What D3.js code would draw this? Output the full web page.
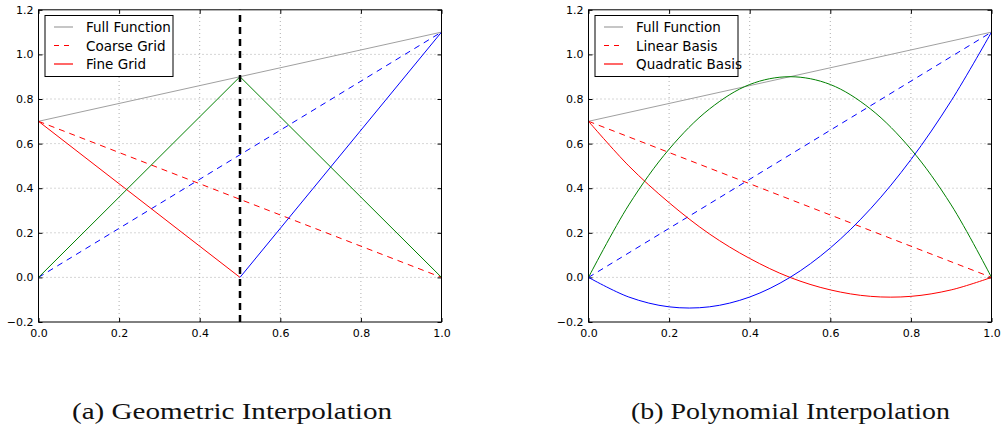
<!DOCTYPE html>
<html>
  <head>
    <meta charset="UTF-8" />
    <style>
      body { margin: 0; background: #fff; }
      svg { display: block; }
      .tick text { font-family: "DejaVu Sans", sans-serif; font-size: 11px; fill: #000; }
      .legend text { font-family: "DejaVu Sans", sans-serif; font-size: 13.5px; fill: #000; }
      .caption { font-family: "Liberation Serif", "DejaVu Serif", serif; font-size: 23px; fill: #111; }
    </style>
  </head>
  <body>
    <svg></svg>
    <script src="https://d3js.org/d3.v7.min.js"></script>
    <script>
      let width = 1002,
        height = 431;

      // ---- data ----
      var xTicks = [0.0, 0.2, 0.4, 0.6, 0.8, 1.0];
      var yTicks = [-0.2, 0.0, 0.2, 0.4, 0.6, 0.8, 1.0, 1.2];

      // left: geometric interpolation
      var fullX = [0, 1];
      var fullY = [0.7, 1.1];
      var coarseRedY = [0.7, 0.0];
      var coarseBlueY = [0.0, 1.1];
      var fineRedX = [0, 0.5];
      var fineRedY = [0.7, 0.0];
      var fineBlueX = [0.5, 1];
      var fineBlueY = [0.0, 1.1];
      var fineGreenX = [0, 0.5, 1];
      var fineGreenY = [0.0, 0.9, 0.0];
      var splitX = 0.5;

      // right: polynomial interpolation (values read at x = 0, 0.1, ..., 1)
      var polyX = [0, 0.1, 0.2, 0.3, 0.4, 0.5, 0.6, 0.7, 0.8, 0.9, 1.0];
      var quadRedY = [0.7, 0.50, 0.335, 0.195, 0.085, 0.0, -0.056, -0.085, -0.085, -0.056, 0.0];
      var quadGreenY = [0.0, 0.325, 0.575, 0.755, 0.865, 0.9, 0.865, 0.755, 0.575, 0.325, 0.0];
      var quadBlueY = [0.0, -0.088, -0.132, -0.132, -0.088, 0.0, 0.132, 0.308, 0.528, 0.792, 1.1];

      var leftLegend = ["Full Function", "Coarse Grid", "Fine Grid"];
      var rightLegend = ["Full Function", "Linear Basis", "Quadratic Basis"];
      var captions = ["(a) Geometric Interpolation", "(b) Polynomial Interpolation"];

      let svg = d3.select("svg").attr("width", width).attr("height", height);

      function zip(xs, ys) {
        return xs.map((x, i) => [x, ys[i]]);
      }

      function makePanel(left, right, legendLabels, legendWidth) {
        var g = svg.append("g");
        var x = d3.scaleLinear().domain([0, 1]).range([left, right]);
        var y = d3.scaleLinear().domain([-0.2, 1.2]).range([322, 9.8]);

        // grid
        g.append("g")
          .selectAll("line")
          .data(xTicks.slice(1, -1))
          .enter()
          .append("line")
          .attr("x1", (d) => x(d)).attr("x2", (d) => x(d))
          .attr("y1", y(-0.2)).attr("y2", y(1.2))
          .attr("stroke", "#999").attr("stroke-width", 0.8)
          .attr("stroke-dasharray", "1,3");
        g.append("g")
          .selectAll("line")
          .data(yTicks.slice(1, -1))
          .enter()
          .append("line")
          .attr("y1", (d) => y(d)).attr("y2", (d) => y(d))
          .attr("x1", x(0)).attr("x2", x(1))
          .attr("stroke", "#999").attr("stroke-width", 0.8)
          .attr("stroke-dasharray", "1,3");

        // axes with inward ticks on all sides
        var fmt = (d) => (d < 0 ? "\u22120.2" : d3.format(".1f")(d));
        g.append("g").attr("transform", "translate(0," + y(-0.2) + ")")
          .call(d3.axisBottom(x).tickValues(xTicks).tickFormat(fmt).tickSizeInner(-4).tickSizeOuter(0).tickPadding(7));
        g.append("g").attr("transform", "translate(" + x(0) + ",0)")
          .call(d3.axisLeft(y).tickValues(yTicks).tickFormat(fmt).tickSizeInner(-4).tickSizeOuter(0).tickPadding(5));
        g.append("g").attr("transform", "translate(0," + y(1.2) + ")")
          .call(d3.axisTop(x).tickValues(xTicks).tickFormat("").tickSizeInner(-4).tickSizeOuter(0));
        g.append("g").attr("transform", "translate(" + x(1) + ",0)")
          .call(d3.axisRight(y).tickValues(yTicks).tickFormat("").tickSizeInner(-4).tickSizeOuter(0));
        g.selectAll(".domain").remove();
        g.selectAll(".tick line").attr("stroke", "#000");

        var panel = { g: g, x: x, y: y, legendLabels: legendLabels, legendWidth: legendWidth };
        return panel;
      }

      function drawLine(p, pts, color, dash, curve, w) {
        var line = d3.line().x((d) => p.x(d[0])).y((d) => p.y(d[1]));
        if (curve) line.curve(curve);
        p.g.append("path")
          .attr("d", line(pts))
          .attr("fill", "none")
          .attr("stroke", color)
          .attr("stroke-width", w || 1)
          .attr("stroke-dasharray", dash || null);
      }

      function finishPanel(p) {
        // frame
        p.g.append("rect")
          .attr("x", p.x(0)).attr("y", p.y(1.2))
          .attr("width", p.x(1) - p.x(0)).attr("height", p.y(-0.2) - p.y(1.2))
          .attr("fill", "none").attr("stroke", "#000").attr("stroke-width", 1);

        // legend
        var lx = p.x(0) + 6.5, ly = 15.5;
        var lg = p.g.append("g").attr("class", "legend");
        lg.append("rect")
          .attr("x", lx).attr("y", ly).attr("width", p.legendWidth).attr("height", 61)
          .attr("fill", "#fff").attr("stroke", "#000").attr("stroke-width", 1);
        var styles = [["#a0a0a0", null], ["#ff0000", "5,5"], ["#ff0000", null]];
        p.legendLabels.forEach(function (lab, i) {
          var yy = ly + 11.5 + i * 18.5;
          lg.append("line")
            .attr("x1", lx + 9).attr("x2", lx + 28).attr("y1", yy).attr("y2", yy)
            .attr("stroke", styles[i][0]).attr("stroke-width", 1.2)
            .attr("stroke-dasharray", styles[i][1]);
          lg.append("text").attr("x", lx + 41).attr("y", yy + 5).text(lab);
        });
      }

      // ---- left panel ----
      var pa = makePanel(38.5, 441.5, leftLegend, 128);
      drawLine(pa, zip(fullX, fullY), "#a0a0a0");
      drawLine(pa, zip(fullX, coarseRedY), "#ff0000", "6,5");
      drawLine(pa, zip(fullX, coarseBlueY), "#0000ff", "6,5");
      drawLine(pa, zip(fineRedX, fineRedY), "#ff0000");
      drawLine(pa, zip(fineBlueX, fineBlueY), "#0000ff");
      drawLine(pa, zip(fineGreenX, fineGreenY), "#008000");
      drawLine(pa, [[splitX, -0.2], [splitX, 1.2]], "#000", "7,5", null, 2.5);
      finishPanel(pa);

      // ---- right panel ----
      var pb = makePanel(588.5, 991.5, rightLegend, 143);
      drawLine(pb, zip(fullX, fullY), "#a0a0a0");
      drawLine(pb, zip(fullX, coarseRedY), "#ff0000", "6,5");
      drawLine(pb, zip(fullX, coarseBlueY), "#0000ff", "6,5");
      drawLine(pb, zip(polyX, quadRedY), "#ff0000", null, d3.curveCatmullRom);
      drawLine(pb, zip(polyX, quadBlueY), "#0000ff", null, d3.curveCatmullRom);
      drawLine(pb, zip(polyX, quadGreenY), "#008000", null, d3.curveCatmullRom);
      finishPanel(pb);

      // captions
      svg.selectAll(".caption")
        .data(captions)
        .enter()
        .append("text")
        .attr("class", "caption")
        .attr("x", (d, i) => (i == 0 ? 72 : 631))
        .attr("y", 419)
        .attr("textLength", (d, i) => (i == 0 ? 320 : 319))
        .attr("lengthAdjust", "spacingAndGlyphs")
        .text((d) => d);
    </script>
  </body>
</html>
